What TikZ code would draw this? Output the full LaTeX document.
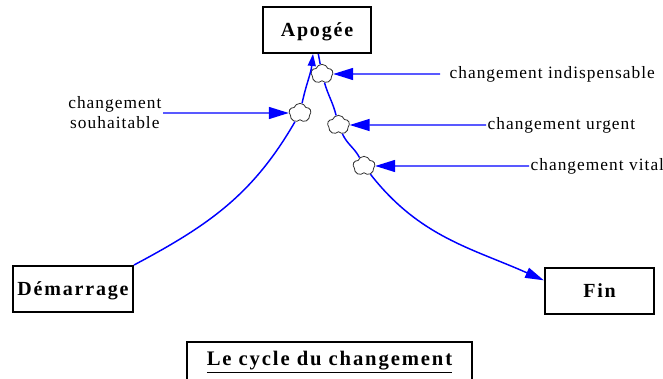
\documentclass[tikz,border=0pt]{standalone}
\usepackage{fontspec}
\setmainfont{Liberation Serif}
\newfontfamily\etiqfont[LetterSpace=6]{Liberation Serif}
\newfontfamily\boitefont[LetterSpace=9]{Liberation Serif}
\usetikzlibrary{arrows.meta,shapes.symbols}
\begin{document}
\begin{tikzpicture}[
        x=0.75pt, y=0.75pt,
        stock/.style={
            draw,
            line width=1.5pt,
            minimum height=34.5pt,
            inner sep=0pt,
            text depth=0pt,
            font=\boitefont\fontsize{15}{17}\selectfont\bfseries
        },
        valve/.style={
            cloud, cloud puffs=5, cloud puff arc=140, aspect=1.1,
            shape border rotate=-36,
            draw=black!80, line width=0.6pt, fill=white,
            minimum width=16.5pt, minimum height=14.5pt, inner sep=0pt
        },
        flux/.style={
            blue, line width=1.1pt
        },
        lien/.style={
            -{Triangle[length=15pt,width=9pt]},
            blue, line width=1.1pt
        },
        etiq/.style={
            inner sep=1pt,
            font=\etiqfont\fontsize{13}{15}\selectfont
        }
    ]
        \useasboundingbox (0,0) rectangle (663,-378);

        % --- 1. Niveaux ---
        \node[stock, minimum width=81pt] (apo) at (317,-30) {Apogée};
        \node[stock, minimum width=90pt] (dem) at (73,-289) {Démarrage};
        \node[stock, minimum width=82pt] (fin) at (599.5,-291) {Fin};

        % --- 2. Vannes ---
        \node[valve] (val1) at (322,-74) {};
        \node[valve] (val2) at (300,-113) {};
        \node[valve] (val3) at (338.5,-125) {};
        \node[valve] (val4) at (364,-166) {};

        % --- 3. Flux ---
        % montée
        \draw[flux] (dem.north east) to[out=28, in=240] (val2);
        \draw[flux, -{Triangle[length=9pt,width=6pt]}] (val2) to[out=78, in=264] ([xshift=-3pt]apo.south);
        % descente
        \draw[flux] ([xshift=1pt]apo.south) -- (val1);
        \draw[flux] (val1) to[out=-74, in=104] (val3);
        \draw[flux] (val3) to[out=-66, in=118] (val4);
        \draw[flux, -{Triangle[length=14pt,width=8pt]}] (val4) to[out=-52, in=156] ([yshift=8pt]fin.west);

        % --- 4. Changements ---
        \node[etiq, align=center, anchor=east] (souh) at (163,-113) {changement\\souhaitable};
        \node[etiq, anchor=west] (ind) at (448,-74) {changement indispensable};
        \node[etiq, anchor=west] (urg) at (486,-125) {changement urgent};
        \node[etiq, anchor=west] (vit) at (529,-166) {changement vital};

        \draw[lien] (souh) -- (val2);
        \draw[lien] ([xshift=-6pt]ind.west) -- (val1);
        \draw[lien] (urg) -- (val3);
        \draw[lien] (vit) -- (val4);

        % --- 5. Titre ---
        \node[draw, line width=1.5pt, anchor=north, minimum width=213.75pt, inner ysep=7pt,
              font=\boitefont\fontsize{15.5}{17}\selectfont\bfseries] (titre) at (329.5,-341)
              {\underline{Le cycle du changement}};
\end{tikzpicture}
\end{document}
